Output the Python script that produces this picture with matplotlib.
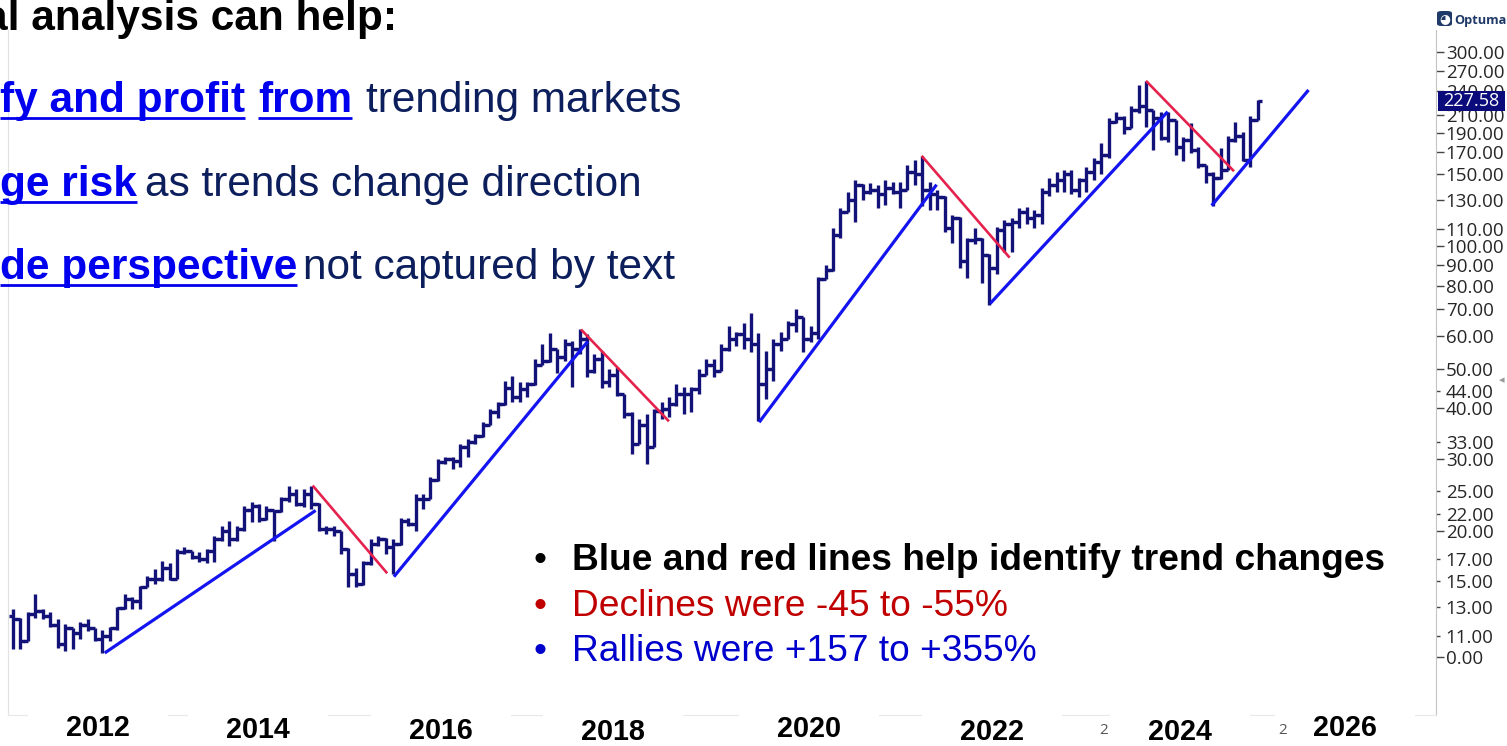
import matplotlib
matplotlib.use("Agg")
import matplotlib.pyplot as plt
import numpy as np
from matplotlib.patches import Rectangle, FancyBboxPatch
from matplotlib.lines import Line2D
from matplotlib.transforms import IdentityTransform

W, H, DPI = 1507, 746, 100

# ---------------- data (monthly OHLC, prices) ----------------
highs = [12.8, 12.2, 12.6, 14.0, 12.8, 12.6, 12.1, 11.8, 11.5, 11.9,
         12.1, 11.5, 11.4, 11.6, 13.0, 14.0, 13.7, 14.6, 15.5, 16.1,
         16.8, 16.6, 18.0, 18.2, 17.8, 17.7, 18.0, 19.4, 20.5, 21.1,
         20.5, 23.0, 23.5, 23.3, 23.0, 22.4, 24.2, 25.8, 25.3, 25.3,
         25.8, 23.4, 20.5, 20.5, 20.0, 18.1, 16.2, 16.8, 19.1, 19.4,
         19.2, 19.1, 21.5, 21.5, 24.6, 24.6, 27.1, 30.0, 30.3, 30.3,
         32.6, 33.5, 34.5, 36.9, 39.7, 41.5, 46.6, 47.9, 46.3, 46.3,
         52.7, 57.4, 61.2, 55.8, 59.0, 58.3, 62.4, 60.7, 54.3, 55.2,
         49.8, 50.4, 43.3, 39.1, 37.5, 38.6, 39.7, 41.5, 42.5, 45.8,
         45.1, 45.1, 49.8, 52.7, 52.7, 57.4, 63.5, 61.6, 64.9, 68.6,
         61.2, 55.2, 59.0, 61.6, 65.4, 69.9, 67.0, 63.5, 83.8, 89.8,
         111.1, 124.3, 135.5, 145.6, 142.0, 143.1, 141.6, 145.6, 144.1, 144.1,
         158.5, 163.0, 166.7, 144.1, 137.6, 132.6, 119.5, 118.2, 105.0, 111.1,
         104.6, 95.5, 111.7, 116.2, 117.5, 124.3, 125.0, 122.9, 139.2, 147.3,
         152.5, 154.1, 154.1, 147.3, 156.4, 164.8, 179.5, 206.4, 213.6, 208.7,
         221.5, 249.2, 254.8, 216.5, 213.6, 213.6, 204.5, 185.4, 200.4, 175.6,
         158.5, 152.5, 174.5, 186.0, 202.0, 190.5, 208.7, 228.8]
lows = [10.2, 10.2, 10.7, 12.2, 12.1, 11.6, 10.3, 10.1, 10.2, 10.8,
        11.3, 10.7, 10.0, 10.7, 11.4, 12.8, 12.8, 12.8, 14.5, 14.8,
        15.0, 15.1, 15.2, 17.5, 17.0, 16.7, 16.6, 16.7, 18.8, 18.3,
        18.8, 20.0, 21.0, 21.0, 21.2, 18.9, 22.2, 23.5, 23.0, 22.9,
        22.6, 19.9, 19.6, 19.4, 17.5, 14.5, 14.5, 14.7, 16.5, 18.3,
        17.5, 15.6, 18.4, 20.5, 19.9, 22.6, 23.9, 26.5, 29.2, 28.3,
        28.6, 30.3, 32.6, 34.0, 36.3, 37.8, 40.8, 41.5, 41.5, 42.5,
        45.6, 50.9, 52.0, 48.9, 52.1, 45.1, 54.3, 47.7, 48.9, 44.9,
        45.1, 42.7, 37.8, 30.8, 32.6, 29.2, 32.0, 37.5, 38.0, 40.4,
        38.6, 39.1, 43.2, 48.3, 47.7, 49.2, 55.2, 56.8, 55.8, 54.9,
        37.1, 42.0, 46.6, 55.2, 59.0, 61.6, 54.9, 58.0, 59.0, 82.8,
        87.0, 105.0, 121.6, 114.9, 130.1, 134.0, 124.3, 126.5, 134.0, 124.3,
        137.6, 141.6, 125.2, 122.9, 122.9, 108.6, 101.5, 88.6, 83.7, 101.0,
        81.0, 71.6, 85.2, 96.5, 96.5, 110.9, 113.4, 110.9, 113.4, 132.6,
        135.5, 135.5, 134.0, 131.8, 136.0, 145.6, 150.0, 164.8, 200.9, 188.2,
        195.3, 212.2, 196.4, 172.5, 182.5, 180.3, 167.6, 161.7, 169.3, 155.8,
        143.1, 125.2, 146.5, 154.0, 180.3, 161.7, 156.4, 204.3]
closes = [12.1, 10.7, 12.5, 12.7, 12.3, 11.7, 10.5, 11.5, 11.2, 11.7,
          11.5, 10.8, 11.0, 11.5, 12.9, 13.6, 13.4, 14.5, 15.2, 15.2,
          16.2, 15.2, 17.7, 17.8, 17.2, 17.0, 17.8, 19.1, 19.9, 19.1,
          20.2, 22.4, 23.0, 21.3, 22.4, 22.3, 23.9, 24.6, 23.3, 24.6,
          23.3, 20.2, 20.2, 19.9, 18.0, 15.6, 14.8, 16.6, 18.5, 19.1,
          18.2, 18.5, 21.1, 20.8, 23.9, 23.9, 26.6, 29.5, 30.0, 29.7,
          32.0, 33.0, 34.1, 36.4, 39.1, 40.9, 44.9, 42.5, 44.5, 45.8,
          50.9, 52.1, 55.8, 53.3, 57.4, 55.8, 59.0, 49.2, 52.7, 46.3,
          48.3, 43.2, 38.6, 32.6, 36.4, 32.0, 39.3, 39.7, 40.9, 43.2,
          43.2, 44.5, 48.3, 50.9, 49.2, 55.8, 59.0, 60.7, 59.0, 57.4,
          45.8, 49.8, 57.4, 59.0, 64.2, 66.8, 59.0, 61.2, 82.8, 87.6,
          106.8, 121.6, 130.1, 141.6, 136.0, 137.6, 134.0, 139.2, 136.0, 137.6,
          152.5, 150.0, 137.6, 134.0, 131.8, 111.1, 117.5, 91.7, 103.8, 104.4,
          95.3, 88.6, 109.8, 113.4, 114.9, 121.6, 117.5, 119.5, 136.0, 141.6,
          145.6, 150.0, 137.6, 145.6, 152.5, 161.1, 167.6, 202.0, 206.4, 195.3,
          216.2, 221.5, 216.2, 206.4, 184.8, 204.3, 175.6, 182.5, 172.5, 158.5,
          150.0, 146.8, 154.1, 182.5, 186.0, 163.0, 204.3, 227.58]
first_open = 12.3
opens = [first_open] + closes[:-1]

# trend lines (bar index, price)
up_x0 = [12.3, 51.1, 100.1, 131.1, 160.8]
up_y0 = [10.0, 15.4, 36.9, 72.3, 125.8]
up_x1 = [40.6, 77.1, 123.9, 154.9, 173.8]
up_y1 = [22.4, 58.3, 141.6, 214.0, 242.0]
down_x0 = [40.2, 76.2, 121.9, 152.0]
down_y0 = [25.8, 62.4, 166.7, 254.8]
down_x1 = [50.2, 88.0, 133.7, 163.8]
down_y1 = [15.7, 37.1, 93.7, 152.8]

ytick_major = [300, 270, 240, 210, 190, 170, 150, 130, 110, 100, 90, 80, 70, 60,
               50, 40, 30, 20, 9.78]
ytick_major_labels = ["300.00", "270.00", "240.00", "210.00", "190.00", "170.00",
                      "150.00", "130.00", "110.00", "100.00", "90.00", "80.00",
                      "70.00", "60.00", "50.00", "40.00", "30.00", "20.00", "0.00"]
ytick_minor = [44, 33, 25, 22, 17, 15, 13, 11]
ytick_minor_labels = ["44.00", "33.00", "25.00", "22.00", "17.00", "15.00", "13.00", "11.00"]

year_labels = ["2012", "2014", "2016", "2018", "2020", "2022", "2024", "2026"]
year_px = [98, 258, 441, 613, 809, 992, 1180, 1345]
year_py = [728, 730, 731, 732, 729, 732, 732, 728]

# ---------------- style ----------------
BAR = "#121278"
TBLUE = "#1414f0"
TRED = "#e5224d"
NAVY = "#0c1f5c"
LINK = "#0000ee"
SANS = "Liberation Sans"

def fx(px):
    return px / W

def fy(py):
    return 1 - py / H

fig = plt.figure(figsize=(W / DPI, H / DPI), dpi=DPI)
fig.patch.set_facecolor("white")
ax = fig.add_axes([fx(8), fy(715), (1436 - 8) / W, (715 - 30) / H])
ax.set_yscale("log")
ax.set_xlim(-0.67, 190.9)
ax.set_ylim(7.04, 339.8)

x = np.arange(len(closes))
ax.vlines(x, lows, highs, color=BAR, lw=2.4, zorder=3)
ax.hlines(opens, x - 0.6, x, color=BAR, lw=2.4, zorder=3)
ax.hlines(closes, x, x + 0.6, color=BAR, lw=2.4, zorder=3)

for i in range(len(up_x0)):
    ax.plot([up_x0[i], up_x1[i]], [up_y0[i], up_y1[i]], color=TBLUE, lw=2.3, zorder=4,
            solid_capstyle="butt")
for i in range(len(down_x0)):
    ax.plot([down_x0[i], down_x1[i]], [down_y0[i], down_y1[i]], color=TRED, lw=1.9, zorder=4,
            solid_capstyle="butt")

ax.yaxis.tick_right()
ax.set_yticks(ytick_major, ytick_major_labels)
ax.set_yticks(ytick_minor, ytick_minor_labels, minor=True)
ax.tick_params(axis="y", which="major", length=6, width=1, color="#444444", pad=1,
               labelsize=13.5, labelcolor="#262626")
ax.tick_params(axis="y", which="minor", length=3, width=1, color="#444444", pad=4,
               labelsize=13.5, labelcolor="#262626")
for lbl in ax.get_yticklabels(which="both"):
    lbl.set_fontfamily("Open Sans")
ax.set_xticks([])
ax.spines["top"].set_visible(False)
ax.spines["right"].set_color("#c4c4c4")
ax.spines["left"].set_color("#e2e2e2")
ax.spines["bottom"].set_color("#e8e8e8")

# year labels pasted on white boxes
for lab, px, py in zip(year_labels, year_px, year_py):
    fig.add_artist(Rectangle((fx(px - 70), 0), 140 / W, 33 / H, transform=fig.transFigure,
                             facecolor="white", edgecolor="none", zorder=3))
    fig.text(fx(px), fy(py), lab, ha="center", va="center", fontsize=20.7,
             fontweight="bold", family=SANS, color="black", zorder=4)
for px in [1104, 1283]:
    fig.text(fx(px), fy(730), "2", ha="center", va="center", fontsize=11,
             family="Open Sans", color="#555555", zorder=4)

# ---------------- slide text ----------------
fig.text(fx(-16), fy(30), "al analysis can help:", fontsize=30.5, fontweight="bold",
         family=SANS, color="black", va="baseline", ha="left")

underlined = []
line_specs = [
    (112, [("fy and profit", 0, True), ("from", 258, True), ("trending markets", 366, False)]),
    (196, [("ge risk", 0, True), ("as trends change direction", 145, False)]),
    (279, [("de perspective", 0, True), ("not captured by text", 303, False)]),
]
for base, parts in line_specs:
    for txt, px, bold in parts:
        t = fig.text(fx(px), fy(base), txt, fontsize=30.5,
                     fontweight="bold" if bold else "normal", family=SANS,
                     color=LINK if bold else NAVY, va="baseline", ha="left")
        if bold:
            underlined.append((t, base))

bullets = [
    ("Blue and red lines help identify trend changes", "black", "bold", 570),
    ("Declines were -45 to -55%", "#c00000", "normal", 616),
    ("Rallies were +157 to +355%", "#0000cc", "normal", 661),
]
for txt, col, wt, base in bullets:
    fig.text(fx(540), fy(base), "\u2022", fontsize=26.7, family=SANS, color=col,
             va="baseline", ha="center")
    fig.text(fx(572), fy(base), txt, fontsize=26.7, family=SANS, color=col,
             fontweight=wt, va="baseline", ha="left")

# logo
fig.add_artist(FancyBboxPatch((fx(1437), fy(26)), 15 / W, 15 / H,
                              boxstyle="round,pad=0,rounding_size=0.003",
                              transform=fig.transFigure, facecolor="#1f3a68",
                              edgecolor="none", zorder=5))
fig.text(fx(1445), fy(18.5), "\u25d5", fontsize=9, color="white", ha="center",
         va="center", family="DejaVu Sans", zorder=6)
fig.text(fx(1454), fy(24), "Optuma", fontsize=9.2, fontweight="bold",
         family="Open Sans", color="#1f3a68", va="baseline", ha="left", zorder=6)
fig.text(fx(1502), fy(380), "\u25c2", fontsize=8, color="#999999", ha="center",
         va="center", family="DejaVu Sans")

fig.canvas.draw()
r = fig.canvas.get_renderer()
for t, base in underlined:
    bb = t.get_window_extent(r)
    yy = fy(base + 6)
    fig.add_artist(Line2D([bb.x0 / W, bb.x1 / W], [yy, yy], transform=fig.transFigure,
                          color=LINK, lw=2.0, solid_capstyle="butt"))

# last price marker
last = closes[-1]
ydisp = ax.transData.transform((0, last))[1]
fig.add_artist(Rectangle((1438, ydisp - 10), 67, 20, transform=IdentityTransform(),
                         facecolor="#0b0b7c", edgecolor="none", zorder=7))
fig.text(1471.5 / W, ydisp / H, f"{last:.2f}", transform=fig.transFigure, ha="center",
         va="center", fontsize=13, family="Open Sans", color="white", zorder=8)

fig.savefig("out.png", dpi=DPI, facecolor="white")
